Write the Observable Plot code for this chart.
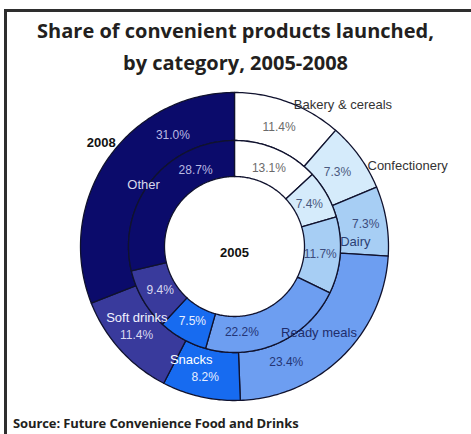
<!DOCTYPE html>
<html><head><meta charset="utf-8">
<script src="https://cdn.jsdelivr.net/npm/d3@7"></script>
<script src="https://cdn.jsdelivr.net/npm/@observablehq/plot@0.6"></script>
<style>
body{margin:0;background:#fff;width:471px;height:434px;overflow:hidden;position:relative;font-family:'Open Sans',sans-serif;}
#frame{position:absolute;left:4px;top:9px;right:0;bottom:0;border-top:3px solid #2e2e2e;border-left:3px solid #2e2e2e;}
#title{position:absolute;left:0;width:471px;top:15px;text-align:center;font-weight:700;font-size:20px;line-height:32px;color:#231f20;}
#chart{position:absolute;left:0;top:80px;}
#chart text.pct{letter-spacing:-0.6px;}
#chart text.nm{letter-spacing:-0.5px;}
#source{position:absolute;left:13px;top:414px;font-weight:700;font-size:13px;letter-spacing:-0.1px;color:#231f20;}
</style></head>
<body>
<div id="frame"></div>
<div id="title">Share of convenient products launched,<br>by category, 2005-2008</div>
<div id="chart"></div>
<div id="source">Source: Future Convenience Food and Drinks</div>
<script>
const categories = ["Bakery & cereals","Confectionery","Dairy","Ready meals","Snacks","Soft drinks","Other"];
const share2008 = [11.4, 7.3, 7.3, 23.4, 8.2, 11.4, 31.0];
const share2005 = [13.1, 7.4, 11.7, 22.2, 7.5, 9.4, 28.7];
const years = ["2008", "2005"];
const colors = ["#ffffff","#d5ebfb","#a7cef4","#6d9ef1","#176bf0","#393a9c","#0b0b6b"];
const nameColors = ["#333333","#333333","#2b3f73","#1e2d6b","#ffffff","#f2f2ff","#d8d8ea"];
const pctColors = ["#6a6a6a","#4a5a80","#3c4c7c","#243575","#e6eeff","#d8d8f0","#b9b9e2"];

const FONT = "'Liberation Sans',Arial,sans-serif";
const TAU = Math.PI * 2;
const polar = (r, a) => ({x: r * Math.sin(a), y: r * Math.cos(a)});

const rings = [
  {year: years[0], values: share2008, r0: 106, r1: 154, rl: 127},
  {year: years[1], values: share2005, r0: 70, r1: 106, rl: 86}
];
rings.forEach(ring => {
  let c = 0;
  ring.segs = ring.values.map((v, i) => {
    const a0 = c / 100 * TAU; c += v; const a1 = c / 100 * TAU;
    return {i, v, a0, a1, mid: (a0 + a1) / 2};
  });
});

// polygon points for each ring segment
const pts = [];
rings.forEach(ring => ring.segs.forEach(s => {
  const key = ring.year + "-" + s.i;
  const n = Math.max(2, Math.ceil((s.a1 - s.a0) / (Math.PI / 180)));
  for (let k = 0; k <= n; k++) { const a = s.a0 + (s.a1 - s.a0) * k / n; pts.push({key, color: colors[s.i], ...polar(ring.r1, a)}); }
  for (let k = n; k >= 0; k--) { const a = s.a0 + (s.a1 - s.a0) * k / n; pts.push({key, color: colors[s.i], ...polar(ring.r0, a)}); }
}));

// category labels
const outside = new Set([0, 1]);
const names = categories.map((name, i) => {
  const so = rings[0].segs[i], si = rings[1].segs[i];
  const big = so.v > 20;
  const a = outside.has(i) || !big ? (so.mid + si.mid) / 2 : so.mid;
  const r = outside.has(i) ? 158 : (big && si.v > 25 ? 110 : 121);
  return {i, text: name, color: nameColors[i], anchor: outside.has(i) ? "start" : "middle", ...polar(r, a)};
});

// percentage labels (pushed outward if they collide with a category label)
const pct = [];
rings.forEach((ring, ri) => ring.segs.forEach(s => {
  const t = s.v > 20 ? 0.74 : 0.5;
  const a = s.a0 + t * (s.a1 - s.a0);
  let r = ring.rl, p = polar(r, a);
  const nm = names[s.i];
  if (ri === 0 && nm.anchor === "middle") {
    while (Math.abs(p.y - nm.y) < 17 && Math.abs(p.x - nm.x) < 40 && r < ring.r1 - 10) { r += 1; p = polar(r, a); }
  }
  pct.push({text: s.v.toFixed(1) + "%", color: pctColors[s.i], ...p});
}));

const yearLabels = [
  {text: years[0], ...polar(169, 308 / 360 * TAU)},
  {text: years[1], x: 0, y: 0}
];

const chart = Plot.plot({
  width: 471, height: 330, margin: 0,
  x: {domain: [-234, 237], axis: null},
  y: {domain: [-164, 166], axis: null},
  color: {type: "identity"},
  style: {fontFamily: FONT, background: "transparent"},
  marks: [
    Plot.line(pts, {x: "x", y: "y", z: "key", fill: "color", stroke: "#10122e", strokeWidth: 1.3, curve: "linear-closed"}),
    Plot.text(pct, {x: "x", y: "y", text: "text", fill: "color", fontSize: 12, className: "pct"}),
    Plot.text(names.filter(d => d.anchor === "start"), {x: "x", y: "y", text: "text", fill: "color", fontSize: 13, textAnchor: "start", dy: 5, className: "nm"}),
    Plot.text(names.filter(d => d.anchor === "middle"), {x: "x", y: "y", text: "text", fill: "color", fontSize: 13, className: "nm"}),
    Plot.text(yearLabels.slice(0, 1), {x: "x", y: "y", text: "text", fill: "#111", fontSize: 13, fontWeight: "bold", className: "nm"}),
    Plot.text(yearLabels.slice(1), {x: "x", y: "y", text: "text", fill: "#111", fontSize: 13, fontWeight: "bold", dy: 6, className: "nm"})
  ]
});
document.getElementById("chart").appendChild(chart);
</script>
</body></html>
